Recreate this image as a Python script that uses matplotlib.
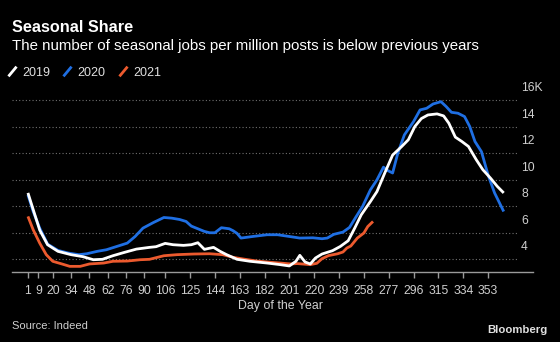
import matplotlib.pyplot as plt
import matplotlib.transforms as mtransforms
from matplotlib.lines import Line2D
from matplotlib.path import Path

# Seasonal jobs per million postings (thousands)
days_2019 = [1, 5, 10, 16, 24, 34, 43, 51, 58, 66, 74, 84, 94, 99, 106, 112, 120, 126,
             131, 136, 143, 148, 153, 161, 171, 184, 194, 201, 206, 209, 213, 217, 221,
             226, 234, 240, 246, 251, 256, 263, 268, 274, 280, 287, 292, 297, 302, 307,
             314, 319, 323, 328, 333, 338, 344, 349, 355, 360, 365]
vals_2019 = [9.0, 7.75, 6.2, 5.1, 4.6, 4.35, 4.2, 3.97, 4.0, 4.27, 4.5, 4.77, 4.9, 4.95,
             5.2, 5.1, 5.05, 5.1, 5.25, 4.75, 4.9, 4.6, 4.35, 4.0, 3.85, 3.72, 3.6, 3.5,
             3.85, 4.3, 3.8, 3.65, 4.1, 4.4, 4.65, 4.97, 5.4, 6.35, 7.35, 8.35, 9.1, 10.5,
             11.85, 12.5, 13.0, 14.0, 14.6, 14.87, 14.95, 14.8, 14.25, 13.2, 12.87, 12.5,
             11.5, 10.75, 10.1, 9.5, 9.0]

days_2020 = [1, 5, 10, 16, 24, 32, 40, 46, 54, 61, 69, 77, 83, 89, 97, 105, 111, 117,
             122, 126, 131, 136, 140, 144, 149, 155, 158, 161, 164, 173, 184, 192, 201,
             209, 219, 226, 230, 235, 242, 247, 252, 257, 263, 268, 273, 276, 280, 284,
             289, 296, 301, 306, 311, 317, 321, 325, 330, 335, 339, 343, 348, 353, 358, 365]
vals_2020 = [8.85, 7.6, 6.35, 5.15, 4.67, 4.47, 4.35, 4.42, 4.6, 4.72, 4.97, 5.22, 5.72,
             6.35, 6.77, 7.15, 7.1, 7.0, 6.85, 6.5, 6.3, 6.1, 6.0, 6.0, 6.38, 6.3, 6.15,
             5.95, 5.6, 5.72, 5.85, 5.85, 5.72, 5.6, 5.62, 5.55, 5.6, 5.88, 6.05, 6.4, 7.2,
             7.98, 9.23, 9.98, 10.94, 10.7, 10.5, 12.0, 13.37, 14.37, 15.25, 15.37, 15.7,
             15.87, 15.5, 15.07, 15.0, 14.75, 14.0, 12.87, 12.1, 10.36, 9.0, 7.6]

days_2021 = [1, 5, 10, 15, 20, 27, 33, 41, 48, 59, 66, 77, 87, 94, 105, 115, 128, 140,
             150, 158, 166, 176, 186, 194, 202, 207, 217, 222, 226, 231, 238, 242, 245,
             248, 253, 258, 261, 265]
vals_2021 = [7.23, 6.23, 5.22, 4.35, 3.85, 3.65, 3.47, 3.47, 3.65, 3.72, 3.85, 3.87, 3.97,
             4.0, 4.27, 4.35, 4.4, 4.42, 4.35, 4.15, 4.02, 3.87, 3.78, 3.72, 3.65, 3.68,
             3.6, 3.7, 4.05, 4.28, 4.42, 4.55, 4.85, 5.0, 5.6, 5.98, 6.47, 6.85]

x_ticks = [1, 9, 20, 34, 48, 62, 76, 90, 106, 125, 144, 163, 182, 201, 220, 239, 258,
           277, 296, 315, 334, 353]
y_ticks = [4, 6, 8, 10, 12, 14, 16]
y_labels = ['4', '6', '8', '10', '12', '14', '16K']

WHITE = '#ffffff'
BLUE = '#1f6fe3'
RED = '#ec5a2e'
GREY_TXT = '#cfcfcf'

plt.rcParams['font.family'] = ['Liberation Sans', 'DejaVu Sans']

fig = plt.figure(figsize=(5.6, 3.42), dpi=100, facecolor='black')
ax = fig.add_axes([12 / 560, 1 - 272 / 342, 521 / 560, 184 / 342])
ax.set_facecolor('black')

# dotted gridlines stop short of the right-hand labels
for v in y_ticks:
    ax.axhline(v, xmin=0, xmax=0.971, color='#707070', lw=0.8, ls=(0, (1, 2)), zorder=1)

ax.plot(days_2020, vals_2020, color=BLUE, lw=2, zorder=3, solid_capstyle='butt')
ax.plot(days_2021, vals_2021, color=RED, lw=2, zorder=3, solid_capstyle='butt')
ax.plot(days_2019, vals_2019, color=WHITE, lw=2, zorder=4, solid_capstyle='butt')

ax.set_xlim(-11.2, 387.4)
ax.set_ylim(3.045, 16.9)

for side in ['top', 'right', 'left']:
    ax.spines[side].set_visible(False)
ax.spines['bottom'].set_color('#9a9a9a')
ax.spines['bottom'].set_linewidth(1)

ax.set_xticks(x_ticks)
ax.set_xticklabels([str(d) for d in x_ticks])
ax.tick_params(axis='x', colors='#9a9a9a', length=4, width=1, pad=5,
               labelsize=8.7, labelcolor=GREY_TXT)
ax.set_yticks([])

# right-hand value labels sit above their gridline
lab_tr = ax.get_yaxis_transform() + mtransforms.ScaledTranslation(0, 0.12, fig.dpi_scale_trans)
for v, lab in zip(y_ticks, y_labels):
    ax.text(0.977, v, lab, transform=lab_tr, ha='left', va='center',
            fontsize=8.7, color=GREY_TXT)

ax.set_xlabel('Day of the Year', fontsize=8.9, color=GREY_TXT)
ax.xaxis.set_label_coords((280 - 12) / 521, -0.15)

# titles
fig.text(12 / 560, 1 - 27 / 342, 'Seasonal Share', fontsize=11.7, fontweight='bold',
         color='white', ha='left', va='center')
fig.text(12 / 560, 1 - 46 / 342,
         'The number of seasonal jobs per million posts is below previous years',
         fontsize=10.8, color='white', ha='left', va='center')

# legend with slash markers
slash = Path([(-0.5, -0.6), (0.5, 0.6)], [Path.MOVETO, Path.LINETO])
handles = [Line2D([], [], color=c, marker=slash, markersize=7, markeredgewidth=2,
                  linestyle='none') for c in (WHITE, BLUE, RED)]
fig.legend(handles, ['2019', '2020', '2021'], loc='center left',
           bbox_to_anchor=(6 / 560, 1 - 72.5 / 342), ncol=3, frameon=False,
           handlelength=0.9, handletextpad=0.4, columnspacing=0.9,
           fontsize=9, labelcolor='#e0e0e0', borderaxespad=0, borderpad=0)

fig.text(12 / 560, 1 - 326 / 342, 'Source: Indeed', fontsize=8, color=GREY_TXT,
         ha='left', va='center')
fig.text(548 / 560, 1 - 330 / 342, 'Bloomberg', fontsize=8.2, fontweight='bold',
         color='#e0e0e0', ha='right', va='center')

fig.savefig('out.png', dpi=100, facecolor='black')
